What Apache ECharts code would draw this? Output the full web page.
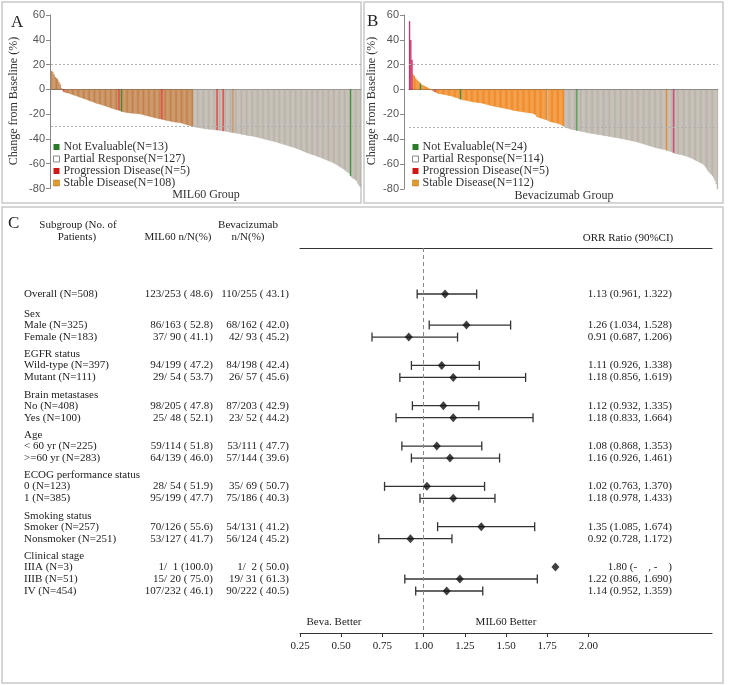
<!DOCTYPE html>
<html><head><meta charset="utf-8">
<script src="https://cdn.jsdelivr.net/npm/echarts@6/dist/echarts.min.js"></script>
<style>html,body{margin:0;padding:0;background:#fff}#c{width:729px;height:685px}</style>
</head><body><div id="c"></div>
<script>
// ---------- Panel A : MIL60 waterfall (best % change from baseline) ----------
const changeA = [15,14,12,10,9,8,6,4,1,
-1,-2,-2.5,
-3,-3,-3.3,-3.6,-4,-4.3,-4.7,-5,-5.3,-5.7,-6,-6.4,-6.8,
-7,-7.4,-7.8,-8.2,-8.6,-9,-9.3,-9.7,-10,-10.4,-10.8,-11.1,-11.5,-11.8,
-12,-12.3,-12.6,-13,-13.3,-13.6,-14,-14.3,-14.6,-15,-15.3,-15.6,-16,-16.3,-16.6,-16.8,
-17,-17.5,-18,-18.2,-18.4,-18.6,-18.8,-19,-19.1,-19.2,-19.3,-19.4,-19.5,-19.6,-19.7,-19.8,-19.9,
-20,-20.2,-20.5,-20.7,-21,-21.2,-21.5,-21.7,-22,-22.2,-22.5,-22.7,-23,-23.2,-23.5,-23.7,-23.9,
-24,-24.3,-24.6,-24.8,-25,-25.2,-25.4,-25.6,-25.8,-26,-26.2,-26.4,-26.6,-26.7,-26.8,-26.9,
-27,-27.3,-27.6,-27.9,-28.2,-28.5,-28.8,-29.1,-29.4,-29.7,-30,
-30.2,-30.4,-30.6,-30.8,-31,-31.2,-31.4,-31.6,-31.8,-32,-32.1,-32.2,-32.3,-32.4,-32.5,-32.6,-32.7,-32.8,-32.9,
-33,-33.2,-33.4,-33.5,-33.6,-33.7,-33.8,-34,-34.2,-34.4,-34.6,-34.8,-34.9,
-35,-35.2,-35.4,-35.6,-35.8,-36,-36.2,-36.4,-36.5,-36.7,-36.9,-37.1,-37.3,-37.5,-37.6,-37.8,-37.9,
-38,-38.3,-38.6,-38.8,-39,-39.3,-39.6,-39.8,-40,-40.3,-40.6,-40.8,-41,-41.3,-41.6,-41.8,
-42,-42.3,-42.6,-42.9,-43.2,-43.5,-43.8,-44.1,-44.4,-44.7,-45,-45.3,-45.6,-45.9,-46.2,-46.5,-46.8,
-47,-47.4,-47.8,-48.2,-48.6,-49,-49.4,-49.8,-50.2,-50.6,-51,-51.4,-51.8,-52.2,-52.5,-52.8,
-53,-53.4,-53.8,-54.2,-54.6,-55,-55.4,-55.8,-56.2,-56.6,-57,-57.4,-57.8,-58.2,-58.6,-59,-59.5,
-60,-60.6,-61.2,-61.8,-62.4,-63,-63.6,-64.3,-65,-65.8,-66.6,-67.3,
-68,-70,-71,-72,-72.5,
-73,-74,-76,-78,-79];
// response category runs (S stable, P partial response, D progression, N not evaluable)
const runsA = [['S',10],['D',1],['S',44],['D',1],['S',1],['N',1],['S',32],['D',1],['S',25],['P',19],['D',1],['P',4],['D',1],['P',7],['S',1],['P',95],['N',1],['P',8]];
const legendNamesA = {N:'Not Evaluable(N=13)', P:'Partial Response(N=127)', D:'Progression Disease(N=5)', S:'Stable Disease(N=108)'};

// ---------- Panel B : Bevacizumab waterfall ----------
const changeB = [55,40,24,
12,11,9,8,7,6,5,4,3.5,3,2.5,2,1.5,1,0.5,-0.5,-1,-1.5,-2,-2.5,
-3,-3.2,-3.4,-3.6,-3.8,-4,-4.2,-4.4,-4.6,-4.8,-5,-5.2,
-5.5,-5.8,-6.2,-6.5,-6.8,-7.2,-7.6,-8,
-8.2,-8.4,-8.6,-8.8,-9,-9.2,-9.4,-9.6,-9.8,-10,-10.2,-10.3,-10.5,-10.6,-10.7,-10.8,-11,
-11.2,-11.4,-11.7,-12,-12.2,-12.4,-12.7,-13,-13.2,-13.4,-13.6,-13.8,-14,
-14.2,-14.4,-14.6,-14.8,-15,-15.2,-15.4,-15.6,-15.8,-16,-16.2,-16.4,-16.7,-17,
-17.1,-17.3,-17.4,-17.6,-17.7,-17.9,-18,-18.2,-18.3,-18.5,-18.6,-18.8,-18.9,-19,
-19.2,-19.5,-19.8,-20.5,
-22,-22.3,-22.6,-23,-23.3,-23.6,-24,-24.3,-24.6,-25,
-25.5,-26,-26.2,-26.4,-26.6,-26.8,-27,-27.3,-27.6,-28,-28.5,-29,-29.5,
-30,-30.5,-31,-31.3,-31.6,-32,-32.2,-32.4,-32.6,-32.8,-33,
-33.2,-33.4,-33.6,-33.8,-34,-34.2,-34.4,-34.6,-34.8,-35,
-35.2,-35.4,-35.5,-35.7,-35.9,-36,-36.2,-36.4,-36.5,-36.7,-36.9,-37,-37.2,-37.4,-37.5,-37.7,-37.9,-38,-38.2,-38.4,-38.5,-38.7,-38.9,-39,-39.2,-39.4,-39.6,-39.8,
-40,-40.2,-40.4,-40.6,-40.8,-41,-41.2,-41.4,-41.7,-42,-42.2,-42.4,-42.7,-43,-43.3,-43.6,-43.9,-44.2,-44.5,-44.8,-45.1,-45.4,-45.7,-46,-46.3,-46.6,-46.9,
-47.2,-47.4,-47.6,-47.8,-48,-48.2,-48.4,-48.6,-49,-49.3,-49.6,-49.9,-50.2,-50.6,
-51,
-51.5,-51.8,-52,-52.2,-52.4,-52.6,-52.8,-53,-53.3,-53.6,-54,-54.3,-54.6,-55,
-55.5,-56,-56.5,-57,-57.5,-58,-58.5,-59,-59.5,-60,-61,
-62,-63.5,-65,-66.5,-67.5,-68.5,-69.5,-71,
-73,-76,-81];
const runsB = [['D',3],['S',6],['N',1],['S',11],['D',1],['S',20],['N',1],['S',71],['P',1],['S',13],['P',10],['N',1],['P',73],['S',1],['P',5],['D',1],['P',36]];
const legendNamesB = {N:'Not Evaluable(N=24)', P:'Partial Response(N=114)', D:'Progression Disease(N=5)', S:'Stable Disease(N=112)'};

const waterfallRefLines = [20, -30];

// ---------- Panel C : forest plot ----------
const subgroups = ['Overall (N=508)','Male (N=325)','Female (N=183)','Wild-type (N=397)','Mutant (N=111)',
 'No (N=408)','Yes (N=100)','< 60 yr (N=225)','>=60 yr (N=283)','0 (N=123)','1 (N=385)',
 'Smoker (N=257)','Nonsmoker (N=251)','IIIA (N=3)','IIIB (N=51)','IV (N=454)'];
const groupHeaders = {1:'Sex',3:'EGFR status',5:'Brain metastases',7:'Age',9:'ECOG performance status',11:'Smoking status',13:'Clinical stage'};
const mil60Col = ['123/253 ( 48.6)','86/163 ( 52.8)','37/ 90 ( 41.1)','94/199 ( 47.2)','29/ 54 ( 53.7)',
 '98/205 ( 47.8)','25/ 48 ( 52.1)','59/114 ( 51.8)','64/139 ( 46.0)','28/ 54 ( 51.9)','95/199 ( 47.7)',
 '70/126 ( 55.6)','53/127 ( 41.7)','1/  1 (100.0)','15/ 20 ( 75.0)','107/232 ( 46.1)'];
const bevaCol = ['110/255 ( 43.1)','68/162 ( 42.0)','42/ 93 ( 45.2)','84/198 ( 42.4)','26/ 57 ( 45.6)',
 '87/203 ( 42.9)','23/ 52 ( 44.2)','53/111 ( 47.7)','57/144 ( 39.6)','35/ 69 ( 50.7)','75/186 ( 40.3)',
 '54/131 ( 41.2)','56/124 ( 45.2)','1/  2 ( 50.0)','19/ 31 ( 61.3)','90/222 ( 40.5)'];
const orrRatio = [1.13,1.26,0.91,1.11,1.18,1.12,1.18,1.08,1.16,1.02,1.18,1.35,0.92,1.80,1.22,1.14];
const ciLow  = [0.961,1.034,0.687,0.926,0.856,0.932,0.833,0.868,0.926,0.763,0.978,1.085,0.728,null,0.886,0.952];
const ciHigh = [1.322,1.528,1.206,1.338,1.619,1.335,1.664,1.353,1.461,1.370,1.433,1.674,1.172,null,1.690,1.359];
const orrText = ['1.13 (0.961, 1.322)','1.26 (1.034, 1.528)','0.91 (0.687, 1.206)','1.11 (0.926, 1.338)','1.18 (0.856, 1.619)',
 '1.12 (0.932, 1.335)','1.18 (0.833, 1.664)','1.08 (0.868, 1.353)','1.16 (0.926, 1.461)','1.02 (0.763, 1.370)','1.18 (0.978, 1.433)',
 '1.35 (1.085, 1.674)','0.92 (0.728, 1.172)','1.80 (-    , -    )','1.22 (0.886, 1.690)','1.14 (0.952, 1.359)'];
const forestTicks = [0.25,0.50,0.75,1.00,1.25,1.50,1.75,2.00];

// ---------- build ----------
const SERIF = '"Liberation Serif","Times New Roman",serif';
const SANS = '"Liberation Sans",Arial,sans-serif';
function expand(runs){ const t=[]; runs.forEach(([c,n])=>{for(let k=0;k<n;k++)t.push(c);}); return t; }
const typesA = expand(runsA), typesB = expand(runsB);

const colorsA = {N:'#2e8b2e', P:'#b8b0a7', D:'#dd2020', S:'#c07d43'};
const colorsB = {N:'#2e8b2e', P:'#b8b0a7', D:'#c81e5a', S:'#f0861c'};
const legendIcon = {
  N:{color:'#2a7a2a'}, P:{color:'#ffffff', borderColor:'#888', borderWidth:1},
  D:{color:'#d01818'}, S:{color:'#e39a2c', borderColor:'#a8701e', borderWidth:0.5}
};
const cats = ['N','P','D','S'];

function waterfallSeries(vals, types, names, colors, idx){
  return cats.map(c => ({
    type:'bar', name:names[c], xAxisIndex:idx, yAxisIndex:idx,
    data: vals.map((v,i)=> types[i]===c ? v : '-'),
    barWidth:'100%', barGap:'-100%',
    itemStyle:{color:colors[c], borderColor:colors[c], borderWidth:0.3}, animation:false, silent:true,
    z: c==='P' || c==='S' ? 2 : 3,
    markLine: c==='S' ? {silent:true, symbol:'none', label:{show:false},
      lineStyle:{type:[2,2], color:'#b0b0b0', width:1},
      data: waterfallRefLines.map(v=>({yAxis:v}))} : undefined
  }));
}
function wfLegend(names, left){
  return {left:left, top:141, orient:'vertical', padding:0, itemWidth:6, itemHeight:6, itemGap:0, icon:'rect',
    itemStyle:{borderWidth:0}, selectedMode:false,
    textStyle:{fontFamily:SERIF, fontSize:12, color:'#333', lineHeight:12, padding:[0,0,0,-1]},
    data: cats.map(c=>({name:names[c], itemStyle:legendIcon[c]}))};
}
function wfY(idx, offset){
  return {type:'value', gridIndex:idx, min:-80, max:60, interval:20, offset:offset,
    axisLine:{show:true, lineStyle:{color:'#888'}}, axisTick:{show:true, length:4, lineStyle:{color:'#888'}},
    axisLabel:{fontFamily:SANS, fontSize:11, color:'#555', margin:5}, splitLine:{show:false}};
}
function wfX(idx, n){
  return {type:'category', gridIndex:idx, data: Array.from({length:n},(_, i)=>i),
    axisLine:{show:true, onZero:true, lineStyle:{color:'#777'}}, axisTick:{show:false}, axisLabel:{show:false}};
}

// forest row layout (line units of 12px)
const rowPos = [], headerPos = {};
let p = 0;
subgroups.forEach((s,i)=>{
  if(i>0){
    if(groupHeaders[i]){ const h = p + (i===1 ? 1.67 : 1.44); headerPos[i]=h; p = h + 0.92; }
    else p += 1.0;
  }
  rowPos.push(p);
});

const ciData = [], ptData = [];
subgroups.forEach((s,i)=>{
  ptData.push([orrRatio[i], rowPos[i]]);
  if(ciLow[i]!=null) ciData.push([rowPos[i], ciLow[i], ciHigh[i]]);
});

const chart = echarts.init(document.getElementById('c'), null, {renderer:'canvas'});
const option = {
  animation:false,
  backgroundColor:'#fff',
  grid:[
    {left:51, top:15, width:310, height:173.5},
    {left:409, top:15, width:309, height:174},
    {left:300, top:248, width:412, height:385}
  ],
  legend:[wfLegend(legendNamesA, 53), wfLegend(legendNamesB, 412)],
  xAxis:[
    wfX(0, changeA.length), wfX(1, changeB.length),
    {type:'value', gridIndex:2, min:0.25, max:2.75, interval:0.25, position:'bottom',
      axisLine:{show:true, onZero:false, lineStyle:{color:'#333', width:1.2}},
      axisTick:{show:true, length:4, inside:false, lineStyle:{color:'#333'}, customValues:forestTicks},
      axisLabel:{fontFamily:SERIF, fontSize:11, color:'#222', margin:8, customValues:forestTicks,
        formatter:v=> v>2.01 ? '' : v.toFixed(2)},
      splitLine:{show:false}},
    {type:'value', gridIndex:2, min:0.25, max:2.75, position:'top',
      axisLine:{show:true, onZero:false, lineStyle:{color:'#333', width:1.2}}, axisTick:{show:false}, axisLabel:{show:false}, splitLine:{show:false}}
  ],
  yAxis:[
    wfY(0, 1), wfY(1, 5),
    {type:'value', gridIndex:2, min:-3.8333, max:28.25, inverse:true, show:false}
  ],
  series:[
    ...waterfallSeries(changeA, typesA, legendNamesA, colorsA, 0),
    ...waterfallSeries(changeB, typesB, legendNamesB, colorsB, 1),
    {type:'custom', xAxisIndex:2, yAxisIndex:2, data:ciData, silent:true,
      encode:{x:[1,2], y:0},
      renderItem:(params, api)=>{
        const a = api.coord([api.value(1), api.value(0)]);
        const b = api.coord([api.value(2), api.value(0)]);
        const h = 4.5, st = {stroke:'#333', lineWidth:1.3};
        return {type:'group', children:[
          {type:'line', shape:{x1:a[0],y1:a[1],x2:b[0],y2:b[1]}, style:st},
          {type:'line', shape:{x1:a[0],y1:a[1]-h,x2:a[0],y2:a[1]+h}, style:st},
          {type:'line', shape:{x1:b[0],y1:b[1]-h,x2:b[0],y2:b[1]+h}, style:st}
        ]};
      }},
    {type:'scatter', xAxisIndex:2, yAxisIndex:2, data:ptData, symbol:'diamond', symbolSize:[8,9],
      itemStyle:{color:'#111'}, silent:true, z:5,
      markLine:{silent:true, symbol:'none', label:{show:false},
        lineStyle:{type:[4,3], color:'#888', width:1}, data:[{xAxis:1}]}}
  ]
};
chart.setOption(option);

// ---------- text (table & annotations) ----------
const T = (text, x, y, o={}) => ({type:'text', x, y, silent:true, rotation:o.rot||0, z:10,
  style:{text, fill:o.color||'#222', font:`${o.weight||'normal'} ${o.size||11}px ${o.family||SERIF}`,
  align:o.align||'left', verticalAlign:'middle'}});
const yPix = v => chart.convertToPixel({yAxisIndex:2}, v);
const g = [];
// panel borders
[[2,2,359,201],[364,2,359,201],[2,207,721,476]].forEach(r=>g.push({type:'rect', shape:{x:r[0],y:r[1],width:r[2],height:r[3]},
  style:{fill:'none', stroke:'#c8c8c8', lineWidth:1.5}, silent:true, z:0}));
g.push(T('A', 11, 23, {size:17}));
g.push(T('B', 367, 22, {size:17}));
g.push(T('C', 8, 224, {size:17}));
g.push(T('Change from Baseline (%)', 14, 101, {rot:Math.PI/2, align:'center', size:12, color:'#333'}));
g.push(T('Change from Baseline (%)', 372, 101, {rot:Math.PI/2, align:'center', size:12, color:'#333'}));
g.push(T('MIL60 Group', 206, 195, {align:'center', size:12, color:'#333'}));
g.push(T('Bevacizumab Group', 564, 196, {align:'center', size:12, color:'#333'}));
// forest headers
g.push(T('Subgroup (No. of', 78, 225, {align:'center'}));
g.push(T('Patients)', 77, 237, {align:'center'}));
g.push(T('MIL60 n/N(%)', 178, 237, {align:'center'}));
g.push(T('Bevacizumab', 248, 225, {align:'center'}));
g.push(T('n/N(%)', 248, 237, {align:'center'}));
g.push(T('ORR Ratio (90%CI)', 628, 238, {align:'center'}));
Object.keys(groupHeaders).forEach(k=> g.push(T(groupHeaders[k], 24, yPix(headerPos[k]))));
subgroups.forEach((s,i)=>{
  const y = yPix(rowPos[i]);
  g.push(T(s, 24, y));
  g.push(T(mil60Col[i], 213, y, {align:'right'}));
  g.push(T(bevaCol[i], 289, y, {align:'right'}));
  g.push(T(orrText[i], 672, y, {align:'right'}));
});
g.push(T('Beva. Better', 334, 622, {align:'center'}));
g.push(T('MIL60 Better', 506, 622, {align:'center'}));
chart.setOption({graphic:{elements:g}});
</script></body></html>
